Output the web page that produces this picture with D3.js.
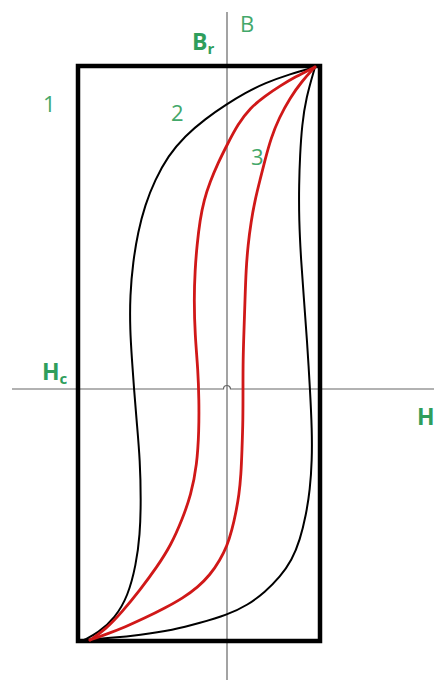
<!DOCTYPE html>
<meta charset="utf-8">
<style>
  body { margin: 0; background: #fff; }
  svg { display: block; }
  .lbl { font-family: "Open Sans", sans-serif; fill: #43a86a; }
  .lbl.bold { font-weight: 700; fill: #2f9e5c; }
</style>
<body>
<div id="chart"></div>
<script src="https://d3js.org/d3.v7.min.js"></script>
<script>
  // hysteresis loops, values as [H, B]
  const rectLoop = { hMin: -14.9, hMax: 9.3, bMin: -25.2, bMax: 32.3 };   // loop 1

  // loop 2 (black)
  const loop2Down = [[8.8,32.2],[6.3,31.5],[3.8,30.6],[1.8,29.6],[0,28.5],[-2.2,27],[-4.2,25.3],
    [-5.9,23.3],[-7.2,20.9],[-8.2,18.4],[-8.9,15.7],[-9.4,12.7],[-9.7,9.4],[-9.7,5.9],[-9.5,2.9],
    [-9.3,0],[-9,-3.6],[-8.7,-7.1],[-8.6,-11.1],[-8.7,-14.6],[-9.1,-17.6],[-9.9,-20.7],
    [-11.2,-22.9],[-12.9,-24.4],[-14.3,-25.1]];
  const loop2Up = [[-14.3,-25.1],[-11.7,-24.9],[-8.7,-24.6],[-5.4,-24.1],[-2.7,-23.4],[0,-22.6],
    [2.1,-21.6],[3.8,-20.3],[5.3,-18.8],[6.5,-17.1],[7.3,-15.1],[7.9,-12.6],[8.3,-10.1],[8.5,-7.1],
    [8.5,-4.1],[8.3,0],[8,4.9],[7.7,8.9],[7.4,12.9],[7.2,16.9],[7.2,20.4],[7.3,23.4],[7.5,26.4],
    [7.9,29.1],[8.8,32.2]];

  // loop 3 (red)
  const loop3Down = [[8.8,32.2],[6.8,31.2],[5.3,30.3],[3.8,29.3],[2.3,28.1],[1.1,26.5],[0,24.4],
    [-0.9,22.6],[-1.7,20.7],[-2.3,18.9],[-2.7,16.9],[-3,14.4],[-3.2,11.9],[-3.3,8.9],[-3.2,5.4],
    [-2.9,1.9],[-2.8,-1.1],[-2.8,-4.1],[-3,-7.6],[-3.6,-10.6],[-4.5,-13.1],[-5.6,-15.6],[-7,-17.8],
    [-8.7,-20.1],[-10.5,-22.3],[-12.2,-24.1],[-13.7,-25.1]];
  const loop3Up = [[-13.7,-25.1],[-12,-24.5],[-10.2,-23.8],[-8.2,-22.9],[-6.2,-21.9],[-4.4,-20.9],
    [-2.9,-19.8],[-1.7,-18.6],[-0.7,-17.1],[0,-15.7],[0.5,-14.1],[0.9,-12.3],[1.2,-10.6],[1.4,-8.6],
    [1.5,-6.1],[1.6,-3.1],[1.6,0],[1.6,2.9],[1.7,5.9],[1.8,8.9],[1.9,11.9],[2.1,14.4],[2.4,16.7],
    [2.8,18.9],[3.3,20.9],[3.8,22.9],[4.4,25.1],[5.2,27.1],[6.3,29.1],[7.5,30.8],[8.8,32.2]];

  const labels = [
    { t: "B", h: 1.3, b: 35.7, bold: false },
    { t: "B", sub: "r", h: -3.5, b: 33.9, bold: true },
    { t: "1", h: -18.4, b: 27.7, bold: false },
    { t: "2", h: -5.6, b: 26.8, bold: false },
    { t: "3", h: 2.4, b: 22.4, bold: false },
    { t: "H", sub: "c", h: -18.5, b: 0.9, bold: true },
    { t: "H", h: 19, b: -3.6, bold: true }
  ];

  const width = 434, height = 680;
  const x = d3.scaleLinear().domain([-22.7, 20.7]).range([0, width]);
  const y = d3.scaleLinear().domain([38.9, -29.1]).range([0, height]);

  const svg = d3.select("#chart").append("svg")
    .attr("width", width).attr("height", height);

  // axes: vertical B axis, horizontal H axis with a small hop over the B axis
  svg.append("line")
    .attr("x1", x(0)).attr("x2", x(0))
    .attr("y1", y(37.7)).attr("y2", height)
    .attr("stroke", "#666").attr("stroke-width", 1.2);
  const r = x(0.35) - x(0);
  svg.append("path")
    .attr("d", `M${x(-21.5)},${y(0)} H${x(0) - r} A${r},${r} 0 0 1 ${x(0) + r},${y(0)} H${width}`)
    .attr("fill", "none").attr("stroke", "#666").attr("stroke-width", 1.2);

  // loop 1 – the rectangle
  svg.append("rect")
    .attr("x", x(rectLoop.hMin)).attr("y", y(rectLoop.bMax))
    .attr("width", x(rectLoop.hMax) - x(rectLoop.hMin))
    .attr("height", y(rectLoop.bMin) - y(rectLoop.bMax))
    .attr("fill", "none").attr("stroke", "#000").attr("stroke-width", 4.5);

  const line = d3.line().x(d => x(d[0])).y(d => y(d[1])).curve(d3.curveBasis);

  [[loop2Down, "#000", 2], [loop2Up, "#000", 2], [loop3Down, "#d01818", 2.8], [loop3Up, "#d01818", 2.8]]
    .forEach(([pts, col, w]) => {
      svg.append("path")
        .attr("d", line(pts))
        .attr("fill", "none").attr("stroke", col).attr("stroke-width", w)
        .attr("stroke-linecap", "round");
    });

  // labels
  labels.forEach(l => {
    const t = svg.append("text")
      .attr("class", "lbl" + (l.bold ? " bold" : ""))
      .attr("x", x(l.h)).attr("y", y(l.b))
      .attr("font-size", l.bold ? 23 : 22)
      .text(l.t);
    if (l.sub) {
      t.append("tspan").attr("dy", 4).attr("font-size", 15).text(l.sub);
    }
  });
</script>
</body>
